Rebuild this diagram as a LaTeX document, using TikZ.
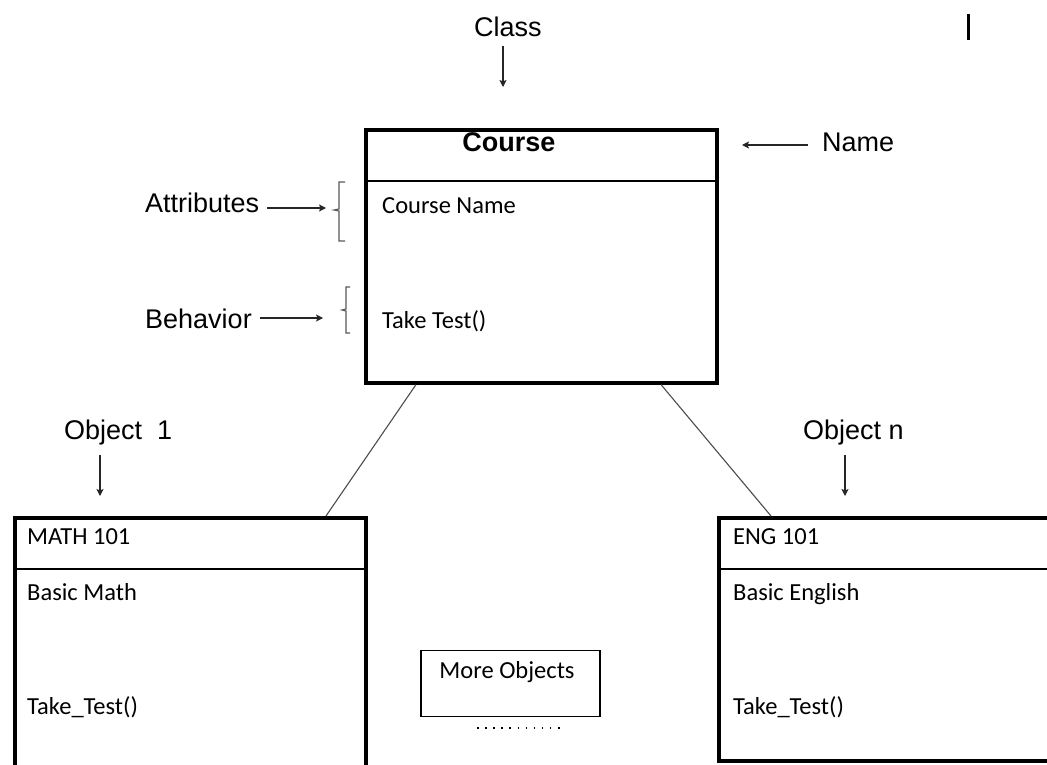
\documentclass[tikz,border=0pt]{standalone}
\usepackage{fontspec}
\setmainfont{Liberation Sans}
\newfontfamily\calfont{Carlito}
\usetikzlibrary{calc,arrows.meta}
\begin{document}
\begin{tikzpicture}[x=1pt,y=-1pt,
  box/.style={draw, line width=3.6pt, inner sep=0pt, anchor=north west},
  divider/.style={line width=1.4pt},
  lbl/.style={font=\fontsize{27}{30}\selectfont, inner sep=0pt},
  ttl/.style={font=\bfseries\fontsize{27}{30}\selectfont, inner sep=0pt},
  txt/.style={font=\calfont\fontsize{24.5}{28}\selectfont, inner sep=0pt, anchor=west},
  ptr/.style={-{Stealth[length=7pt,width=7pt,inset=1.5pt]}, line width=1.1pt, draw=black!85},
  brk/.style={line width=1.1pt, draw=black!65},
  link/.style={line width=1.1pt, draw=black!70}]
\clip (0,0) rectangle (1047,765);
\fill[white] (0,0) rectangle (1047,765);

% Class box
\node[box, minimum width=351pt, minimum height=253pt] (course) at (364,128) {};
\draw[divider] (364,181) -- (715,181);
\node[ttl] (ctitle) at (509,142) {Course};
\node[txt] (cname) at (382,206) {Course Name};
\node[txt] (ctest) at (382,321) {Take Test()};

% Labels on top
\node[lbl] (class) at (508,27) {Class};
\coordinate (classtail) at (503,46);
\coordinate (classtip) at (503,87);
\draw[ptr] (classtail) -- (classtip);
\draw[line width=3pt] (968,14) -- (968,40);

\node[lbl, anchor=west] (name) at (822,142) {Name};
\coordinate (nametip) at (742,145);
\draw[ptr] ([xshift=-14pt,yshift=-3pt]name.west) -- (nametip);

% Attributes / Behavior
\node[lbl, anchor=west] (attr) at (145,203) {Attributes};
\coordinate (attrtip) at (326,208);
\draw[ptr] ([xshift=8pt,yshift=-5pt]attr.east) -- (attrtip);
\draw[brk] (345,182) -- (339,182) -- (339,209) -- (334,210) -- (339,211) -- (339,241) -- (345,241);

\node[lbl, anchor=west] (behav) at (145,319) {Behavior};
\coordinate (behavtip) at (323,318);
\draw[ptr] ([xshift=8pt,yshift=1pt]behav.east) -- (behavtip);
\draw[brk] (350,287) -- (346,287) -- (346,309) -- (342,310) -- (346,311) -- (346,333) -- (350,333);

% Object labels
\node[lbl, anchor=west] (obj1) at (64,433) {Object\ \ 1};
\coordinate (obj1tail) at (100,455);
\coordinate (obj1tip) at (100,496);
\draw[ptr] (obj1tail) -- (obj1tip);
\node[lbl, anchor=west] (objn) at (803,433) {Object n};
\coordinate (objntail) at (845,455);
\coordinate (objntip) at (845,496);
\draw[ptr] (objntail) -- (objntip);

% Object boxes
\node[box, minimum width=351pt, minimum height=300pt] (math) at (13,516) {};
\draw[divider] (13,569) -- (364,569);
\node[txt] (mname) at (27,537) {MATH 101};
\node[txt] (mattr) at (27,592) {Basic Math};
\node[txt] (mtest) at (27,707) {Take\_Test()};

\node[box, minimum width=360pt, minimum height=243pt] (eng) at (717,516) {};
\draw[divider] (717,569) -- (1077,569);
\node[txt] (ename) at (733,537) {ENG 101};
\node[txt] (eattr) at (733,594.5) {Basic English};
\node[txt] (etest) at (733,707) {Take\_Test()};

% Links
\draw[link] ($(course.south west)+(52,0)$) -- ($(math.north west)+(313,0)$);
\draw[link] ($(course.south west)+(297,0)$) -- ($(eng.north west)+(54,0)$);

% More objects
\node[draw, line width=1.5pt, inner sep=0pt, anchor=north west, minimum width=179pt, minimum height=66pt] (more) at (420,649.5) {};
\node[txt, anchor=center] (moretext) at (507,672) {More Objects};
\draw[line width=1.3pt, dash pattern=on 1.5pt off 6.6pt] (477,728) -- (562,728);
\end{tikzpicture}
\end{document}
